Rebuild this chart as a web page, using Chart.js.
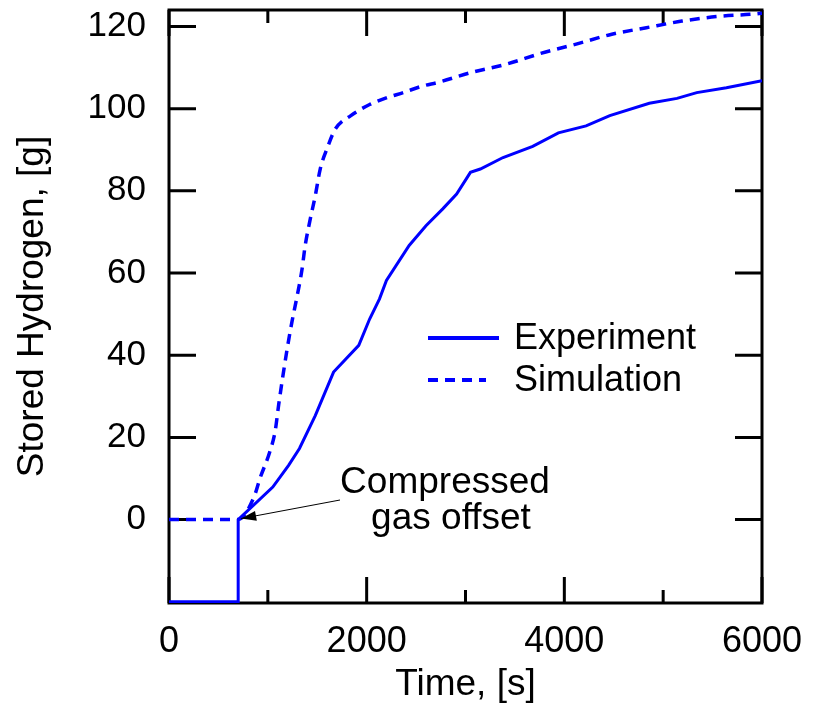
<!DOCTYPE html>
<html>
<head>
<meta charset="utf-8">
<script src="https://cdn.jsdelivr.net/npm/chart.js@4/dist/chart.umd.min.js"></script>
<style>
  html, body { margin: 0; padding: 0; background: #ffffff; }
  #chart { display: block; }
</style>
</head>
<body>
<canvas id="chart" width="817" height="719"></canvas>
<script>
// experiment (solid)
const expTime = [0, 700, 700, 1050, 1210, 1320, 1480, 1665, 1920, 2030, 2130, 2200, 2430, 2600, 2770, 2910, 3050, 3150, 3380, 3680, 3940, 4220, 4460, 4860, 5140, 5340, 5640, 6000];
const expH2 = [-20, -20, 0, 7.9, 13.2, 17.3, 25.3, 35.9, 42.4, 48.8, 53.7, 58.2, 66.7, 71.5, 75.6, 79.2, 84.5, 85.3, 88.1, 90.8, 94.1, 95.8, 98.3, 101.3, 102.5, 103.9, 105.1, 106.8];

// simulation (dashed)
const simTime = [0, 700, 860, 920, 1020, 1074, 1110, 1190, 1243, 1294, 1344, 1378, 1429, 1480, 1530, 1598, 1682, 1840, 2030, 2210, 2370, 2550, 2740, 3060, 3410, 3770, 4120, 4480, 4830, 5190, 5540, 5910, 6000];
const simH2 = [0, 0, 5.5, 10, 16.5, 21.5, 28, 40.7, 48, 54.1, 60.6, 66.7, 73.1, 78.8, 85.3, 90.2, 95, 98.3, 101.0, 102.7, 103.9, 105.4, 106.5, 108.8, 110.8, 113.5, 115.7, 118.1, 119.7, 121.3, 122.4, 123.0, 123.2];

const yTicks = [-20, 0, 20, 40, 60, 80, 100, 120];
const seriesNames = ["Experiment", "Simulation"];
const noteLines = ["Compressed", "gas offset"];
const noteAt = [700, 0];

const FONT = '"Liberation Sans", Arial, sans-serif';
const BLUE = "#0000ff";

const toPts = (xs, ys) => xs.map((x, i) => ({ x: x, y: ys[i] }));

// frame and inward ticks under the lines
const frame = {
  id: "frame",
  beforeDatasetsDraw(chart) {
    const ctx = chart.ctx;
    const a = chart.chartArea;
    const xs = chart.scales.x, ys = chart.scales.y;
    ctx.save();
    ctx.strokeStyle = "#000";
    ctx.lineWidth = 3;
    ctx.strokeRect(a.left, a.top, a.right - a.left, a.bottom - a.top);
    xs.ticks.forEach(t => {
      const px = xs.getPixelForValue(t.value);
      const len = t.value % 2000 === 0 ? 26 : 13;
      ctx.beginPath();
      ctx.moveTo(px, a.bottom); ctx.lineTo(px, a.bottom - len);
      ctx.moveTo(px, a.top); ctx.lineTo(px, a.top + len);
      ctx.stroke();
    });
    ys.ticks.forEach(t => {
      if (t.value < 0) return;
      const py = ys.getPixelForValue(t.value);
      ctx.beginPath();
      ctx.moveTo(a.left, py); ctx.lineTo(a.left + 27, py);
      ctx.moveTo(a.right, py); ctx.lineTo(a.right - 27, py);
      ctx.stroke();
    });
    ctx.restore();
  },
  afterDraw(chart) {
    const ctx = chart.ctx;
    const xs = chart.scales.x, ys = chart.scales.y;
    const ds = chart.data.datasets;
    ctx.save();
    // legend
    ctx.font = "36px " + FONT;
    ctx.textBaseline = "middle";
    ctx.textAlign = "left";
    [338, 380].forEach((ly, i) => {
      ctx.strokeStyle = ds[i].borderColor;
      ctx.lineWidth = 4;
      ctx.setLineDash(ds[i].borderDash || []);
      ctx.beginPath();
      ctx.moveTo(428, ly); ctx.lineTo(i === 0 ? 499 : 486, ly);
      ctx.stroke();
      ctx.setLineDash([]);
      ctx.fillStyle = "#000";
      ctx.fillText(seriesNames[i], 514, ly + 1);
    });

    // note + arrow
    ctx.font = "37px " + FONT;
    ctx.textAlign = "center";
    ctx.textBaseline = "alphabetic";
    ctx.fillText(noteLines[0], 445, 493);
    ctx.fillText(noteLines[1], 451, 529);

    const tx = xs.getPixelForValue(noteAt[0]) + 3;
    const ty = ys.getPixelForValue(noteAt[1]) - 1;
    const sx = 340, sy = 500;
    const ang = Math.atan2(ty - sy, tx - sx);
    ctx.strokeStyle = "#000";
    ctx.lineWidth = 1;
    ctx.beginPath();
    ctx.moveTo(sx, sy); ctx.lineTo(tx, ty);
    ctx.stroke();
    ctx.beginPath();
    ctx.moveTo(tx, ty);
    ctx.lineTo(tx - 15 * Math.cos(ang) + 5 * Math.sin(ang), ty - 15 * Math.sin(ang) - 5 * Math.cos(ang));
    ctx.lineTo(tx - 15 * Math.cos(ang) - 5 * Math.sin(ang), ty - 15 * Math.sin(ang) + 5 * Math.cos(ang));
    ctx.closePath();
    ctx.fillStyle = "#000";
    ctx.fill();
    ctx.restore();
  }
};

new Chart(document.getElementById("chart"), {
  type: "line",
  data: {
    datasets: [
      {
        label: seriesNames[0],
        data: toPts(expTime, expH2),
        borderColor: BLUE,
        borderWidth: 3,
        pointRadius: 0,
        tension: 0,
      },
      {
        label: seriesNames[1],
        data: toPts(simTime, simH2),
        borderColor: BLUE,
        borderWidth: 3.5,
        borderDash: [10, 7],
        pointRadius: 0,
        cubicInterpolationMode: "monotone",
      },
    ],
  },
  options: {
    responsive: false,
    animation: false,
    devicePixelRatio: 1,
    layout: { padding: { top: 10, right: 55, left: 0, bottom: 0 } },
    plugins: { legend: { display: false }, tooltip: { enabled: false } },
    scales: {
      x: {
        type: "linear",
        min: 0,
        max: 6000,
        grid: { display: false },
        border: { display: false },
        ticks: {
          stepSize: 1000,
          autoSkip: false,
          maxRotation: 0,
          padding: 9,
          color: "#000",
          font: { family: FONT, size: 36 },
          callback: v => (v % 2000 === 0 ? String(v) : ""),
        },
        title: {
          display: true,
          text: "Time, [s]",
          color: "#000",
          font: { family: FONT, size: 37 },
          padding: { top: 0, bottom: 12 },
        },
        afterFit: s => { s.height = 116; },
      },
      y: {
        min: -20.3,
        max: 124,
        grid: { display: false },
        border: { display: false },
        afterBuildTicks: s => { s.ticks = yTicks.map(v => ({ value: v })); },
        ticks: {
          autoSkip: false,
          padding: 15,
          color: "#000",
          font: { family: FONT, size: 35 },
          callback: v => (v < 0 ? "" : String(v)),
        },
        title: {
          display: true,
          text: "Stored Hydrogen, [g]",
          color: "#000",
          font: { family: FONT, size: 37 },
          padding: { top: 11, bottom: 0 },
        },
        afterFit: s => { s.width = 169; s.paddingTop = 0; s.paddingBottom = 0; },
      },
    },
  },
  plugins: [frame],
});
</script>
</body>
</html>
